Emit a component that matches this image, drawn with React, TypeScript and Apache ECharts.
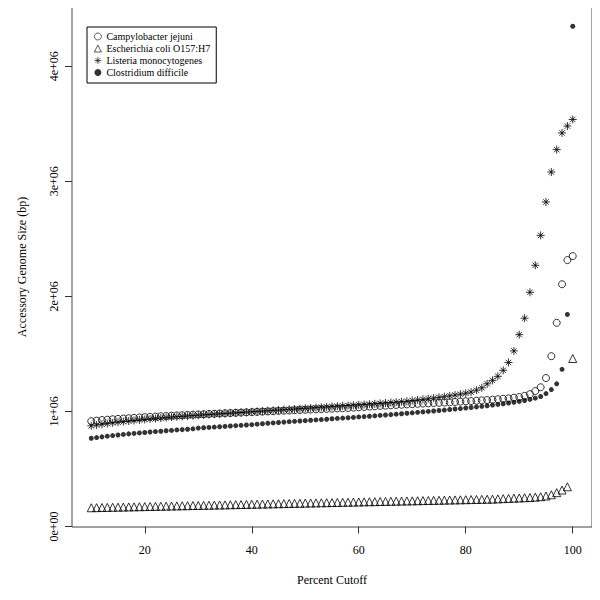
import React, { useEffect, useRef } from "react";
import * as echarts from "echarts";

// Percent cutoff (x) 10..100
const percentCutoff: number[] = Array.from({ length: 91 }, (_, i) => 10 + i);

// Accessory genome size, in millions of bp
const campylobacter: number[] = [
  0.915, 0.92, 0.925, 0.928, 0.932, 0.935, 0.938, 0.941, 0.944, 0.947,
  0.95, 0.953, 0.955, 0.958, 0.96, 0.963, 0.965, 0.967, 0.97, 0.972,
  0.974, 0.976, 0.978, 0.98, 0.982, 0.984, 0.986, 0.988, 0.99, 0.992,
  0.994, 0.996, 0.998, 1.0, 1.002, 1.004, 1.006, 1.008, 1.01, 1.012,
  1.014, 1.016, 1.018, 1.02, 1.022, 1.024, 1.026, 1.028, 1.03, 1.033,
  1.036, 1.039, 1.042, 1.045, 1.048, 1.05, 1.053, 1.056, 1.058, 1.061,
  1.063, 1.066, 1.068, 1.07, 1.073, 1.075, 1.077, 1.079, 1.082, 1.085,
  1.088, 1.09, 1.093, 1.096, 1.099, 1.102, 1.106, 1.11, 1.114, 1.119,
  1.125, 1.135, 1.15, 1.177, 1.21, 1.29, 1.48, 1.77, 2.105, 2.315,
  2.35,
];

const ecoli: number[] = [
  0.163, 0.164, 0.165, 0.166, 0.167, 0.168, 0.169, 0.17, 0.171, 0.172,
  0.173, 0.174, 0.175, 0.176, 0.177, 0.178, 0.179, 0.18, 0.181, 0.182,
  0.183, 0.184, 0.185, 0.186, 0.187, 0.188, 0.189, 0.19, 0.191, 0.192,
  0.193, 0.194, 0.195, 0.196, 0.197, 0.198, 0.199, 0.2, 0.201, 0.202,
  0.203, 0.204, 0.205, 0.206, 0.207, 0.208, 0.209, 0.21, 0.211, 0.212,
  0.213, 0.214, 0.215, 0.216, 0.217, 0.218, 0.219, 0.22, 0.221, 0.222,
  0.223, 0.224, 0.225, 0.226, 0.227, 0.228, 0.229, 0.23, 0.231, 0.232,
  0.233, 0.234, 0.235, 0.236, 0.237, 0.238, 0.24, 0.242, 0.244, 0.246,
  0.248, 0.25, 0.252, 0.255, 0.259, 0.265, 0.276, 0.294, 0.317, 0.345,
  1.46,
];

const listeria: number[] = [
  0.875, 0.882, 0.888, 0.894, 0.9, 0.906, 0.911, 0.916, 0.921, 0.926,
  0.93, 0.934, 0.938, 0.942, 0.946, 0.95, 0.954, 0.957, 0.961, 0.964,
  0.967, 0.97, 0.973, 0.976, 0.979, 0.982, 0.985, 0.988, 0.991, 0.994,
  0.997, 1.0, 1.003, 1.006, 1.009, 1.012, 1.015, 1.018, 1.021, 1.024,
  1.027, 1.03, 1.033, 1.036, 1.039, 1.042, 1.045, 1.048, 1.051, 1.054,
  1.057, 1.06, 1.063, 1.066, 1.07, 1.073, 1.077, 1.08, 1.084, 1.088,
  1.095, 1.1, 1.105, 1.11, 1.116, 1.122, 1.128, 1.135, 1.142, 1.15,
  1.158, 1.168, 1.185, 1.205, 1.24, 1.27, 1.305, 1.357, 1.425, 1.526,
  1.667, 1.81, 2.035, 2.27, 2.53, 2.82, 3.08, 3.275, 3.42, 3.48,
  3.537,
];

const clostridium: number[] = [
  0.767, 0.773, 0.779, 0.785, 0.79, 0.795, 0.8, 0.805, 0.809, 0.813,
  0.817, 0.821, 0.825, 0.828, 0.832, 0.835, 0.839, 0.842, 0.845, 0.849,
  0.855, 0.858, 0.861, 0.864, 0.867, 0.87, 0.873, 0.876, 0.879, 0.882,
  0.885, 0.889, 0.893, 0.897, 0.9, 0.904, 0.907, 0.911, 0.914, 0.917,
  0.92, 0.923, 0.926, 0.929, 0.932, 0.936, 0.939, 0.942, 0.945, 0.948,
  0.952, 0.955, 0.958, 0.962, 0.965, 0.969, 0.972, 0.976, 0.98, 0.984,
  0.988, 0.992, 0.996, 1.0, 1.004, 1.008, 1.012, 1.017, 1.021, 1.025,
  1.03, 1.034, 1.039, 1.044, 1.049, 1.055, 1.061, 1.067, 1.073, 1.08,
  1.087, 1.095, 1.104, 1.115, 1.13, 1.155, 1.19, 1.24, 1.366, 1.843,
  4.347,
];

const seriesNames: string[] = [
  "Campylobacter jejuni",
  "Escherichia coli O157:H7",
  "Listeria monocytogenes",
  "Clostridium difficile",
];

const xTicks: number[] = [20, 40, 60, 80, 100];
const yTicks: number[] = [0, 1e6, 2e6, 3e6, 4e6];
const yTickLabels: string[] = ["0e+00", "1e+06", "2e+06", "3e+06", "4e+06"];

const MILLION = 1e6;
const FONT = "Liberation Serif";

const ASTERISK =
  "path://M5,0 L5,10 M0,5 L10,5 M1.6,1.6 L8.4,8.4 M1.6,8.4 L8.4,1.6";

function toPoints(vals: number[]): [number, number][] {
  return percentCutoff.map((x, i) => [x, vals[i] * MILLION]);
}

export default function App() {
  const ref = useRef<HTMLDivElement>(null);

  useEffect(() => {
    if (!ref.current) return;
    const chart = echarts.init(ref.current, undefined, { renderer: "svg" });

    const all = [...campylobacter, ...ecoli, ...listeria, ...clostridium].map(
      (v) => v * MILLION
    );
    const dMin = Math.min(...all);
    const dMax = Math.max(...all);
    const yPad = (dMax - dMin) * 0.04;
    const xPad = (percentCutoff[percentCutoff.length - 1] - percentCutoff[0]) * 0.04;

    const open = {
      color: "rgba(0,0,0,0)",
      borderColor: "#000",
      borderWidth: 1,
    };

    const option: any = {
      animation: false,
      backgroundColor: "#fff",
      textStyle: { fontFamily: FONT, color: "#000" },
      grid: {
        left: 72,
        right: 8,
        top: 7,
        bottom: 73,
        show: true,
        borderColor: "#444",
        borderWidth: 1,
        backgroundColor: "transparent",
      },
      legend: {
        orient: "vertical",
        left: 87,
        top: 27,
        itemWidth: 7,
        itemHeight: 7,
        itemGap: 1,
        padding: [4, 6, 5, 7],
        borderColor: "#000",
        borderWidth: 1,
        backgroundColor: "#fff",
        itemStyle: { borderWidth: 0.8 },
        textStyle: {
          fontFamily: FONT,
          fontSize: 10,
          lineHeight: 11,
          color: "#000",
          padding: [0, 0, 0, 0],
        },
        data: seriesNames,
      },
      xAxis: {
        type: "value",
        min: percentCutoff[0] - xPad,
        max: percentCutoff[percentCutoff.length - 1] + xPad,
        name: "Percent Cutoff",
        nameLocation: "middle",
        nameGap: 47,
        nameTextStyle: { fontFamily: FONT, fontSize: 12, color: "#000" },
        axisLine: { show: false },
        splitLine: { show: false },
        axisTick: {
          show: true,
          inside: false,
          length: 7,
          customValues: xTicks,
          lineStyle: { color: "#333" },
        },
        axisLabel: {
          customValues: xTicks,
          margin: 17,
          fontFamily: FONT,
          fontSize: 12,
          color: "#000",
        },
      },
      yAxis: {
        type: "value",
        min: dMin - yPad,
        max: dMax + yPad,
        name: "Accessory Genome Size (bp)",
        nameLocation: "middle",
        nameGap: 44,
        nameTextStyle: { fontFamily: FONT, fontSize: 12, color: "#000" },
        axisLine: { show: false },
        splitLine: { show: false },
        axisTick: {
          show: true,
          inside: false,
          length: 7,
          customValues: yTicks,
          lineStyle: { color: "#333" },
        },
        axisLabel: {
          customValues: yTicks,
          rotate: 90,
          margin: 12,
          fontFamily: FONT,
          fontSize: 12,
          color: "#000",
          formatter: (v: number) => {
            const i = yTicks.indexOf(v);
            return i >= 0 ? yTickLabels[i] : "";
          },
        },
      },
      series: [
        {
          name: seriesNames[0],
          type: "scatter",
          symbol: "circle",
          symbolSize: 7,
          itemStyle: open,
          data: toPoints(campylobacter),
        },
        {
          name: seriesNames[1],
          type: "scatter",
          symbol: "triangle",
          symbolSize: 8,
          itemStyle: open,
          data: toPoints(ecoli),
        },
        {
          name: seriesNames[2],
          type: "scatter",
          symbol: ASTERISK,
          symbolSize: 8,
          itemStyle: open,
          data: toPoints(listeria),
        },
        {
          name: seriesNames[3],
          type: "scatter",
          symbol: "circle",
          symbolSize: 5,
          itemStyle: { color: "#000" },
          data: toPoints(clostridium),
        },
      ],
    };

    chart.setOption(option);
    return () => chart.dispose();
  }, []);

  return <div ref={ref} style={{ width: 600, height: 600, margin: -8 }} />;
}
